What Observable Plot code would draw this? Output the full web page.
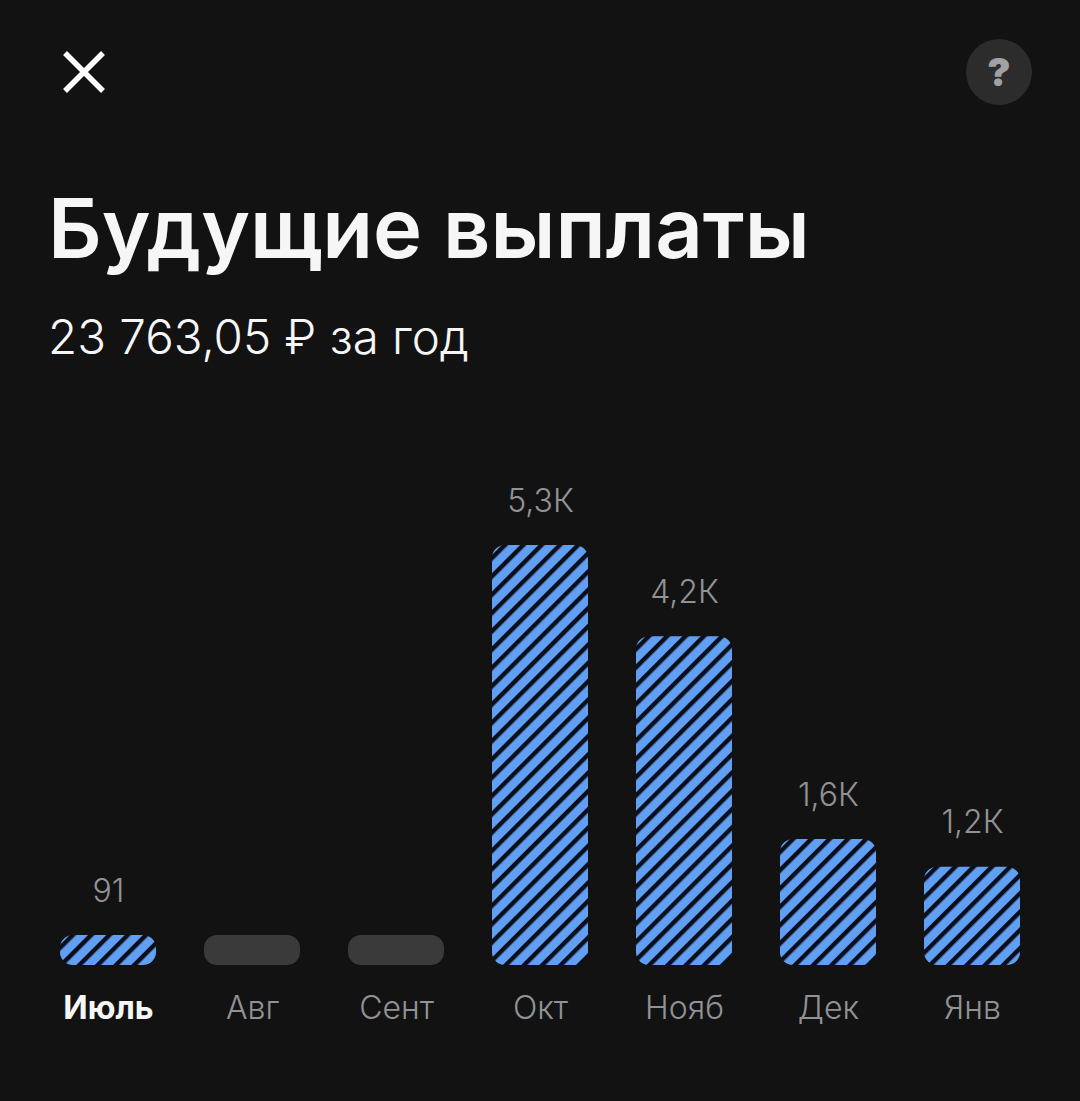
<!DOCTYPE html>
<html lang="ru">
<head>
<meta charset="utf-8">
<script src="https://cdn.jsdelivr.net/npm/d3@7"></script>
<script src="https://cdn.jsdelivr.net/npm/@observablehq/plot@0.6"></script>
<style>
html,body{margin:0;padding:0;background:#121212;overflow:hidden}
#page{position:relative;width:1080px;height:1101px;background:#121212;font-family:Inter,Roboto,sans-serif;color:#fff}
#head{position:relative;height:420px}
#head>*{position:absolute}
#title{left:48px;top:182px;font-size:83px;line-height:92px;font-weight:600;white-space:nowrap;color:#f6f6f6}
#sub{left:48px;top:310px;font-size:47.5px;line-height:54px;font-weight:300;white-space:nowrap;color:#f6f6f6}
#chart svg{display:block}
</style>
</head>
<body>
<div id="page">
  <div id="head">
    <svg style="left:60px;top:48px" width="48" height="48" viewBox="0 0 48 48"><path d="M5 5L43 43M43 5L5 43" stroke="#fff" stroke-width="5.5" fill="none"/></svg>
    <svg style="left:966px;top:39px" width="66" height="66" viewBox="0 0 66 66"><circle cx="33" cy="33" r="33" fill="#2c2c2c"/><text x="33" y="47" text-anchor="middle" font-family="Inter,Roboto,sans-serif" font-weight="900" font-size="39" fill="#a0a0a6">?</text></svg>
    <div id="title">Будущие выплаты</div>
    <div id="sub">23 763,05 ₽ за год</div>
  </div>
  <div id="chart"></div>
</div>
<script>
const months = ["Июль","Авг","Сент","Окт","Нояб","Дек","Янв"];
const values = [91, 0, 0, 5300, 4150, 1590, 1240];
const valueLabels = ["91","","","5,3К","4,2К","1,6К","1,2К"];
const minBar = 380; // the app draws small amounts at a minimum bar height

const rows = months.map((month, i) => ({id: i, month, value: values[i], label: valueLabels[i], shown: Math.max(values[i], minBar)}));
const paid = rows.filter(d => d.value > 0);
const empty = rows.filter(d => d.value === 0);
const current = rows.slice(0, 1);
const later = rows.slice(1);

// The hatching starts again at each bar's top-left corner, so each bar has its own
// pattern, anchored through the plot's own scales.
const stripePeriod = 12.94, stripeDark = 4.4, stripeStart = 7;
function hatches(index, scales) {
  const defs = d3.create("svg:defs");
  for (const d of paid) {
    const p = defs.append("pattern").attr("id", `hatch-${d.id}`).attr("patternUnits", "userSpaceOnUse")
      .attr("width", stripePeriod).attr("height", stripePeriod)
      .attr("patternTransform", `translate(${scales.x(d.month)},${scales.y(d.shown)}) rotate(45)`);
    p.append("rect").attr("width", stripePeriod).attr("height", stripePeriod).attr("fill", "#619ff3");
    p.append("rect").attr("x", stripeStart).attr("width", stripeDark).attr("height", stripePeriod).attr("fill", "#0a0e1a");
  }
  return defs.node();
}

const chart = Plot.plot({
  width: 1080, height: 681,
  marginTop: 0, marginRight: 0, marginBottom: 0, marginLeft: 0,
  style: {background: "#121212", fontFamily: "Inter,Roboto,sans-serif"},
  x: {type: "band", domain: months, range: [36, 1044], paddingInner: 1/3, paddingOuter: 1/6, axis: null},
  y: {domain: [0, 5300], range: [545, 125], axis: null},
  marks: [
    hatches,
    Plot.barY(empty, {x: "month", y: "shown", fill: "#3a3a3a", rx: 13}),
    ...paid.map(d => Plot.barY([d], {x: "month", y: "shown", fill: `url(#hatch-${d.id})`, rx: 13})),
    Plot.text(paid, {x: "month", y: "shown", text: "label", dy: -44, fill: "#929296", fontSize: 32, fontWeight: 300}),
    Plot.text(later, {x: "month", y: 0, text: "month", dy: 43, fontSize: 32, fontWeight: 300, fill: "#929296"}),
    Plot.text(current, {x: "month", y: 0, text: "month", dy: 43, fontSize: 32, fill: "#f6f6f6", fontWeight: 700})
  ]
});
document.getElementById("chart").append(chart);
</script>
</body>
</html>
